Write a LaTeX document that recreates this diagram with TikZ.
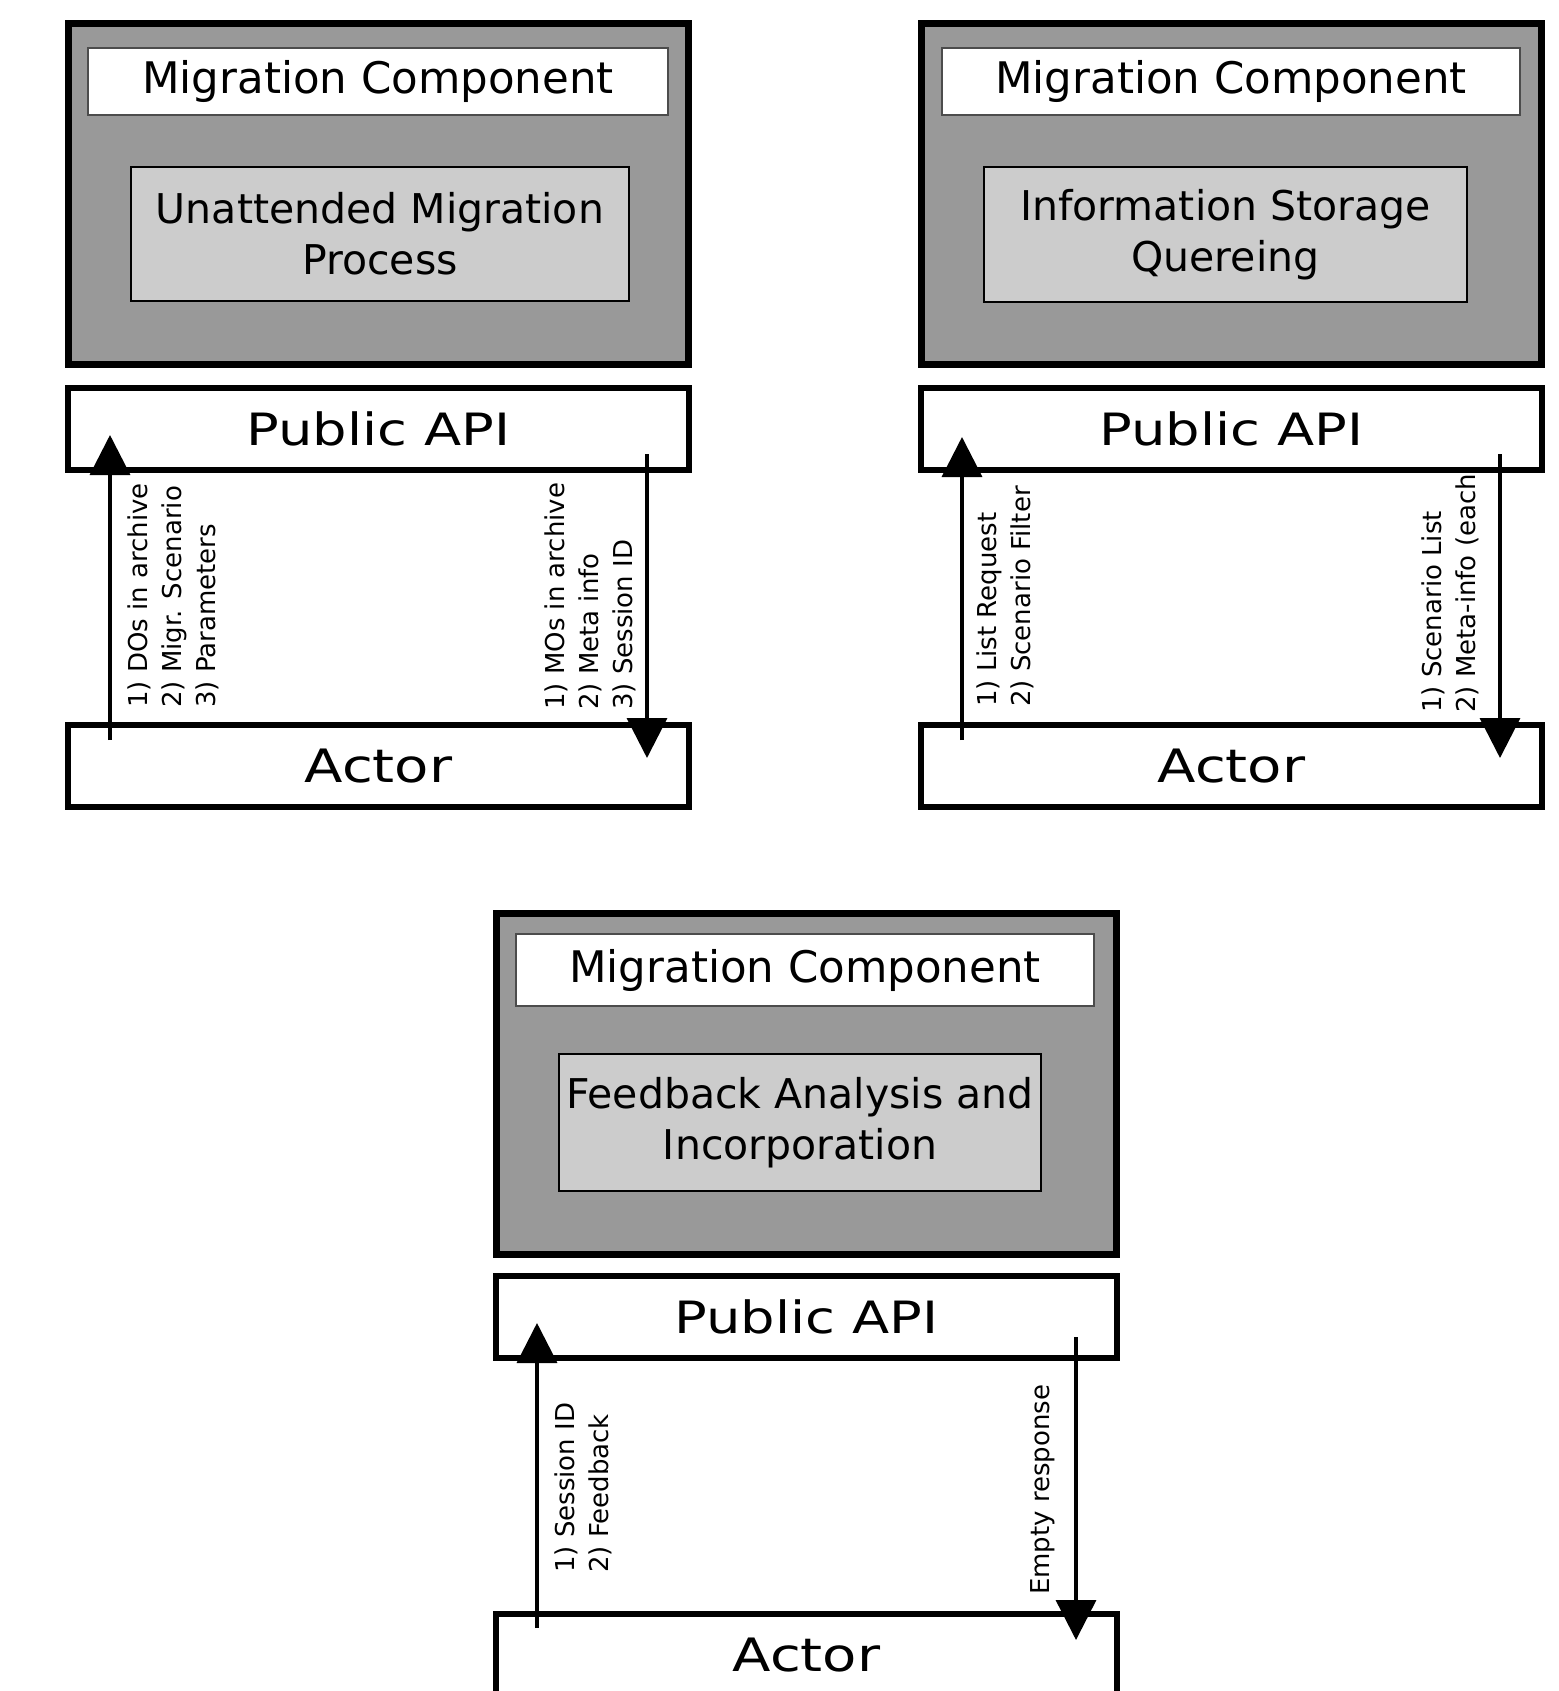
\documentclass[tikz,border=0pt]{standalone}
\usepackage{fontspec}
\setmainfont{DejaVu Sans}
\newfontfamily\titlef{DejaVu Sans}
\newfontfamily\apif[FakeStretch=1.22]{DejaVu Sans}
\newfontfamily\actorf[FakeStretch=1.22]{DejaVu Sans}
\usetikzlibrary{arrows.meta}
\definecolor{outergray}{gray}{0.6}
\definecolor{innergray}{gray}{0.8}
\tikzset{
  outerbox/.style={draw=black, line width=7pt, fill=outergray, inner sep=0pt},
  titlebox/.style={draw=black!70, line width=1.5pt, fill=white, inner sep=0pt, font=\titlef\fontsize{43.5}{50}\selectfont},
  procbox/.style={draw=black, line width=2pt, fill=innergray, inner sep=0pt, align=center, font=\fontsize{41}{51}\selectfont},
  apibox/.style={draw=black, line width=6pt, fill=white, inner sep=0pt, minimum width=621pt, minimum height=82pt, font=\apif\fontsize{44.5}{50}\selectfont},
  actorbox/.style={draw=black, line width=6pt, fill=white, inner sep=0pt, minimum width=621pt, minimum height=82pt, font=\actorf\fontsize{46}{50}\selectfont},
  msg/.style={line width=3.5pt, -{Triangle[width=40pt,length=40pt]}},
  lbl/.style={rotate=90, anchor=base west, align=left, inner sep=0pt, font=\fontsize{26}{34}\selectfont},
}
\begin{document}
\begin{tikzpicture}[x=1pt,y=-1pt]
\useasboundingbox (0,0) rectangle (1558,1691);
\clip (0,0) rectangle (1558,1691);

% ---------- panel 1 (top left) ----------
\begin{scope}[shift={(65,20)}]
  \node[lbl] (p1la) at (150,688) {1) DOs in archive\\2) Migr. Scenario\\3) Parameters};
  \node[lbl] (p1lb) at (567,690) {1) MOs in archive\\2) Meta info\\3) Session ID};
  \node[outerbox, minimum width=620pt, minimum height=341pt] (p1out) at (313.5,174) {};
  \node[titlebox, minimum width=580pt, minimum height=67pt] (p1title) at (313,61.5) {Migration Component};
  \node[procbox, minimum width=498pt, minimum height=134pt] (p1proc) at (315,214) {Unattended Migration\\Process};
  \node[apibox] (p1api) at (313.5,409) {Public API};
  \node[actorbox] (p1actor) at (313.5,746) {Actor};
  \coordinate (p1us) at (45,720);
  \coordinate (p1ue) at (45,415);
  \coordinate (p1ds) at (582,434);
  \coordinate (p1de) at (582,738);
  \draw[msg] (p1us) -- (p1ue);
  \draw[msg] (p1ds) -- (p1de);
\end{scope}

% ---------- panel 2 (top right) ----------
\begin{scope}[shift={(918,20)}]
  \node[lbl] (p2la) at (112,687) {1) List Request\\2) Scenario Filter};
  \node[lbl] (p2lb) at (557,693) {1) Scenario List\\2) Meta-info (each};
  \node[outerbox, minimum width=620pt, minimum height=341pt] (p2out) at (313.5,174) {};
  \node[titlebox, minimum width=578pt, minimum height=67pt] (p2title) at (313,61.5) {Migration Component};
  \node[procbox, minimum width=483pt, minimum height=135pt] (p2proc) at (307.5,214.5) {Information Storage\\Quereing};
  \node[apibox] (p2api) at (313.5,409) {Public API};
  \node[actorbox] (p2actor) at (313.5,746) {Actor};
  \coordinate (p2us) at (44,720);
  \coordinate (p2ue) at (44,417);
  \coordinate (p2ds) at (582,434);
  \coordinate (p2de) at (582,738);
  \draw[msg] (p2us) -- (p2ue);
  \draw[msg] (p2ds) -- (p2de);
\end{scope}

% ---------- panel 3 (bottom) ----------
\begin{scope}[shift={(493,910)}]
  \node[lbl] (p3la) at (115,663) {1) Session ID\\2) Feedback};
  \node[lbl] (p3lb) at (556,685) {Empty response};
  \node[outerbox, minimum width=620pt, minimum height=341pt] (p3out) at (313.5,174) {};
  \node[titlebox, minimum width=578pt, minimum height=72pt] (p3title) at (312,60) {Migration Component};
  \node[procbox, minimum width=482pt, minimum height=137pt] (p3proc) at (307,212.5) {Feedback Analysis and\\Incorporation};
  \node[apibox] (p3api) at (313.5,407) {Public API};
  \node[actorbox] (p3actor) at (313.5,745) {Actor};
  \coordinate (p3us) at (44,718);
  \coordinate (p3ue) at (44,413);
  \coordinate (p3ds) at (583,427);
  \coordinate (p3de) at (583,730);
  \draw[msg] (p3us) -- (p3ue);
  \draw[msg] (p3ds) -- (p3de);
\end{scope}
\end{tikzpicture}
\end{document}
